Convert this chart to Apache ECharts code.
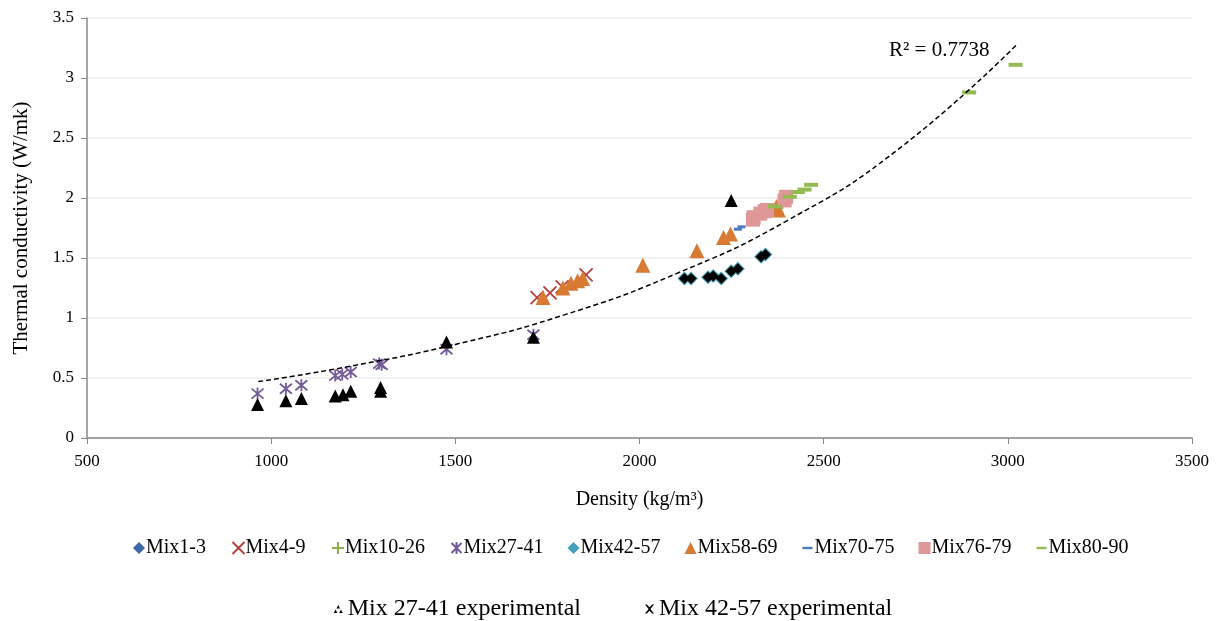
<!DOCTYPE html>
<html lang="en">
<head>
    <meta charset="UTF-8">
    <title>Thermal conductivity vs density</title>
    <script src="https://cdn.jsdelivr.net/npm/echarts@6.0.0/dist/echarts.min.js"></script>
    <style>
        body { margin: 0; background: #fff; }
        #chart { width: 1226px; height: 621px; }
    </style>
</head>
<body>
    <div id="chart"></div>
    <script>
        // data: [density, conductivity]
        const mix1_3 = [[2140, 1.33], [2200, 1.35], [2267, 1.41]];
        const mix4_9 = [[1722, 1.17], [1757, 1.21], [1790, 1.26], [1855, 1.36]];
        const mix10_26 = [[2330, 1.86], [2372, 1.92], [2388, 1.95]];
        const mix27_41 = [[963, 0.37], [1040, 0.41], [1082, 0.44], [1174, 0.52], [1193, 0.53],
            [1216, 0.55], [1293, 0.62], [1300, 0.61], [1476, 0.74], [1712, 0.86]];
        const mix42_57 = [[2122, 1.33], [2140, 1.33], [2186, 1.34], [2200, 1.35], [2222, 1.33],
            [2249, 1.39], [2267, 1.41], [2330, 1.51], [2342, 1.53]];
        const mix58_69 = [[1738, 1.17], [1792, 1.25], [1814, 1.29], [1832, 1.31], [1846, 1.33],
            [2009, 1.44], [2156, 1.56], [2228, 1.67], [2247, 1.70], [2372, 1.93], [2377, 1.90]];
        const mix70_75 = [[2267, 1.74], [2277, 1.76], [2318, 1.88]];
        const mix76_79 = [[2308, 1.82], [2310, 1.84], [2328, 1.87], [2340, 1.89], [2346, 1.90],
            [2394, 1.98], [2398, 2.01]];
        const mix80_90 = [[2368, 1.93], [2408, 2.01], [2430, 2.05], [2448, 2.07], [2466, 2.11],
            [2895, 2.88], [3021, 3.11]];
        const exp27_41 = [[963, 0.28], [1040, 0.31], [1082, 0.33], [1174, 0.35], [1195, 0.36],
            [1216, 0.39], [1297, 0.42], [1297, 0.39], [1476, 0.80], [1712, 0.84], [2249, 1.98]];
        const exp42_57 = mix42_57;
        const trend = [[965, 0.47], [1200, 0.59], [1500, 0.78], [1800, 1.03], [2100, 1.37],
            [2400, 1.81], [2700, 2.40], [3025, 3.28]];
        const xTicks = { min: 500, max: 3500, step: 500 };
        const yTicks = { min: 0, max: 3.5, step: 0.5 };

        const serif = 'Liberation Serif';
        const crossPath = 'path://M0,0L10,10M10,0L0,10';
        const plusPath = 'path://M5,0L5,10M0,5L10,5';
        const starPath = 'path://M0,0L10,10M10,0L0,10M5,-1L5,11';
        // moveTo points widen the icon box so the dash keeps its shape
        const dashIcon = 'path://M0,0M12,12M1,4.8L11,4.8L11,7.2L1,7.2Z';

        function scatter(name, data, symbol, size, color, extra) {
            return Object.assign({
                name: name,
                type: 'scatter',
                data: data,
                symbol: symbol,
                symbolSize: size,
                itemStyle: { color: color, opacity: 1 },
                emphasis: { disabled: true }
            }, extra || {});
        }

        const strokeStyle = (c) => ({ itemStyle: { color: 'none', borderColor: c, borderWidth: 1.8, opacity: 1 } });

        const chart = echarts.init(document.getElementById('chart'));
        chart.setOption({
            animation: false,
            grid: { left: 87, right: 34, top: 18, bottom: 183 },
            xAxis: {
                type: 'value',
                min: xTicks.min, max: xTicks.max, interval: xTicks.step,
                name: 'Density (kg/m³)',
                nameLocation: 'middle',
                nameGap: 52,
                nameTextStyle: { fontFamily: serif, fontSize: 20, color: '#000' },
                axisLine: { lineStyle: { color: '#888', width: 1.5 } },
                axisTick: { show: true, length: 6, lineStyle: { color: '#888' } },
                axisLabel: { fontFamily: serif, fontSize: 17, color: '#000', margin: 15, formatter: (v) => String(v) },
                splitLine: { show: false }
            },
            yAxis: {
                type: 'value',
                min: yTicks.min, max: yTicks.max, interval: yTicks.step,
                name: 'Thermal conductivity (W/mk)',
                nameLocation: 'middle',
                nameGap: 55,
                nameTextStyle: { fontFamily: serif, fontSize: 21, color: '#000' },
                axisLine: { show: true, lineStyle: { color: '#888', width: 1.5 } },
                axisTick: { show: true, length: 6, lineStyle: { color: '#888' } },
                axisLabel: { fontFamily: serif, fontSize: 17, color: '#000', margin: 13 },
                splitLine: { lineStyle: { color: '#ececec', width: 1.5 } }
            },
            legend: [{
                data: ['Mix1-3', 'Mix4-9', 'Mix10-26', 'Mix27-41', 'Mix42-57', 'Mix58-69',
                    { name: 'Mix70-75', icon: dashIcon }, 'Mix76-79', { name: 'Mix80-90', icon: dashIcon }],
                top: 533, left: 128,
                itemWidth: 12, itemHeight: 12, itemGap: 24,
                textStyle: { fontFamily: serif, fontSize: 20, color: '#000', padding: [0, 0, 0, -4] }
            }, {
                data: [
                    { name: 'Mix 27-41 experimental', icon: 'path://M5,0L7,4L3,4ZM2,5L4,9L0,9ZM8,5L10,9L6,9Z' },
                    { name: 'Mix 42-57 experimental', icon: 'path://M0,0L2,0L5,3L8,0L10,0L6,5L10,10L8,10L5,7L2,10L0,10L4,5Z' }
                ],
                top: 592, left: 'center',
                itemWidth: 9, itemHeight: 9, itemGap: 64,
                textStyle: { fontFamily: serif, fontSize: 24, color: '#000' }
            }],
            graphic: [{
                type: 'text', left: 889, top: 40,
                style: { text: 'R² = 0.7738', font: '21px "Liberation Serif"', fill: '#000' }
            }],
            series: [
                scatter('Mix1-3', mix1_3, 'diamond', 11, '#3c67a8'),
                scatter('Mix4-9', mix4_9, crossPath, 13, '#b5403c', strokeStyle('#b5403c')),
                scatter('Mix10-26', mix10_26, plusPath, 10, '#8db048', strokeStyle('#8db048')),
                scatter('Mix27-41', mix27_41, starPath, 12, '#735b96', strokeStyle('#735b96')),
                scatter('Mix42-57', mix42_57, 'diamond', 14, '#43a2b8'),
                scatter('Mix58-69', mix58_69, 'triangle', 15, '#d97a33'),
                scatter('Mix70-75', mix70_75, 'rect', [8, 3], '#4a7dbf'),
                scatter('Mix76-79', mix76_79, 'rect', 14, '#e09797'),
                scatter('Mix80-90', mix80_90, 'rect', [14, 4], '#94bb52'),
                scatter('Mix 27-41 experimental', exp27_41, 'triangle', 13, '#000'),
                scatter('Mix 42-57 experimental', exp42_57, 'diamond', 11, '#000'),
                {
                    name: 'trend',
                    type: 'line',
                    data: trend,
                    smooth: true,
                    symbol: 'none',
                    silent: true,
                    lineStyle: { color: '#000', width: 1.5, type: [5, 3] },
                    z: 5
                }
            ]
        });
    </script>
</body>
</html>
